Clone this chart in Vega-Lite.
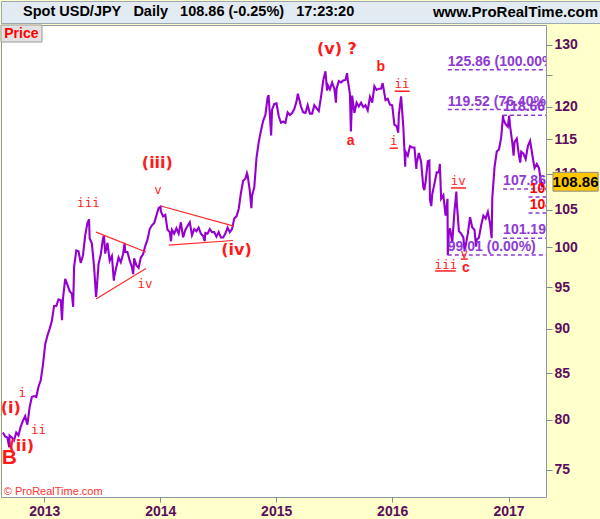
{
  "$schema": "https://vega.github.io/schema/vega-lite/v6.json",
  "padding": 0,
  "spacing": 0,
  "background": "#FFFFCC",
  "config": {"font": "Liberation Sans", "view": {"stroke": "#8c9aa5"}},
  "datasets": {
    "px": [
      {"d":"2012-08-24","p":78.7},{"d":"2012-08-31","p":78.3},{"d":"2012-09-07","p":78.2},{"d":"2012-09-13","p":77.2},{"d":"2012-09-14","p":78.4},{"d":"2012-09-21","p":78.2},{"d":"2012-09-28","p":77.9},{"d":"2012-10-05","p":78.7},{"d":"2012-10-12","p":78.4},{"d":"2012-10-19","p":79.3},{"d":"2012-10-26","p":79.9},{"d":"2012-11-02","p":80.4},{"d":"2012-11-09","p":79.5},{"d":"2012-11-16","p":81.3},{"d":"2012-11-23","p":82.4},{"d":"2012-11-30","p":82.5},{"d":"2012-12-07","p":82.4},{"d":"2012-12-14","p":83.5},{"d":"2012-12-21","p":84.2},{"d":"2012-12-28","p":85.9},
      {"d":"2013-01-04","p":88.2},{"d":"2013-01-11","p":89.2},{"d":"2013-01-18","p":90.0},{"d":"2013-01-25","p":90.9},{"d":"2013-02-01","p":92.7},{"d":"2013-02-08","p":92.7},{"d":"2013-02-15","p":93.5},{"d":"2013-02-22","p":93.4},{"d":"2013-02-26","p":91.0},{"d":"2013-03-01","p":93.6},{"d":"2013-03-08","p":96.0},{"d":"2013-03-15","p":95.3},{"d":"2013-03-22","p":94.5},{"d":"2013-03-29","p":94.2},{"d":"2013-04-02","p":92.6},{"d":"2013-04-05","p":97.5},{"d":"2013-04-12","p":99.6},{"d":"2013-04-19","p":99.5},{"d":"2013-04-26","p":98.0},{"d":"2013-05-03","p":99.0},{"d":"2013-05-10","p":101.6},{"d":"2013-05-17","p":103.2},{"d":"2013-05-22","p":103.7},{"d":"2013-05-24","p":101.2},{"d":"2013-05-31","p":100.5},{"d":"2013-06-07","p":97.5},{"d":"2013-06-13","p":93.8},{"d":"2013-06-14","p":94.1},{"d":"2013-06-21","p":97.9},{"d":"2013-06-28","p":99.1},{"d":"2013-07-05","p":101.2},{"d":"2013-07-08","p":101.5},{"d":"2013-07-12","p":99.2},{"d":"2013-07-19","p":100.6},{"d":"2013-07-26","p":98.3},{"d":"2013-08-02","p":98.9},{"d":"2013-08-08","p":95.8},{"d":"2013-08-09","p":96.2},{"d":"2013-08-16","p":97.5},{"d":"2013-08-23","p":98.7},{"d":"2013-08-30","p":98.1},{"d":"2013-09-06","p":99.1},{"d":"2013-09-11","p":100.6},{"d":"2013-09-13","p":99.4},{"d":"2013-09-20","p":99.4},{"d":"2013-09-27","p":98.3},{"d":"2013-10-04","p":97.5},{"d":"2013-10-08","p":96.6},{"d":"2013-10-11","p":98.6},{"d":"2013-10-18","p":97.7},{"d":"2013-10-25","p":97.4},{"d":"2013-11-01","p":98.7},{"d":"2013-11-08","p":99.1},{"d":"2013-11-15","p":100.2},{"d":"2013-11-22","p":101.0},{"d":"2013-11-29","p":102.4},{"d":"2013-12-06","p":102.9},{"d":"2013-12-13","p":103.2},{"d":"2013-12-20","p":104.2},{"d":"2013-12-27","p":105.2},
      {"d":"2014-01-02","p":105.4},{"d":"2014-01-03","p":104.8},{"d":"2014-01-10","p":104.1},{"d":"2014-01-17","p":104.3},{"d":"2014-01-24","p":102.3},{"d":"2014-01-31","p":102.0},{"d":"2014-02-04","p":100.8},{"d":"2014-02-07","p":102.3},{"d":"2014-02-14","p":101.8},{"d":"2014-02-21","p":102.5},{"d":"2014-02-28","p":101.8},{"d":"2014-03-07","p":103.3},{"d":"2014-03-14","p":101.3},{"d":"2014-03-21","p":102.3},{"d":"2014-03-28","p":102.8},{"d":"2014-04-04","p":103.3},{"d":"2014-04-11","p":101.6},{"d":"2014-04-18","p":102.4},{"d":"2014-04-25","p":102.1},{"d":"2014-05-02","p":102.6},{"d":"2014-05-09","p":101.8},{"d":"2014-05-16","p":101.5},{"d":"2014-05-21","p":100.8},{"d":"2014-05-23","p":101.9},{"d":"2014-05-30","p":101.8},{"d":"2014-06-06","p":102.4},{"d":"2014-06-13","p":102.0},{"d":"2014-06-20","p":102.0},{"d":"2014-06-27","p":101.4},{"d":"2014-07-04","p":102.0},{"d":"2014-07-11","p":101.3},{"d":"2014-07-18","p":101.3},{"d":"2014-07-25","p":101.8},{"d":"2014-08-01","p":102.6},{"d":"2014-08-08","p":102.0},{"d":"2014-08-15","p":102.4},{"d":"2014-08-22","p":103.8},{"d":"2014-08-29","p":104.1},{"d":"2014-09-05","p":105.1},{"d":"2014-09-12","p":107.3},{"d":"2014-09-19","p":109.0},{"d":"2014-09-26","p":109.3},{"d":"2014-10-01","p":110.1},{"d":"2014-10-03","p":109.8},{"d":"2014-10-10","p":107.6},{"d":"2014-10-15","p":105.2},{"d":"2014-10-17","p":106.9},{"d":"2014-10-24","p":108.1},{"d":"2014-10-31","p":112.3},{"d":"2014-11-07","p":114.6},{"d":"2014-11-14","p":116.3},{"d":"2014-11-21","p":117.8},{"d":"2014-11-28","p":118.7},{"d":"2014-12-05","p":121.4},{"d":"2014-12-08","p":121.8},{"d":"2014-12-12","p":118.8},{"d":"2014-12-16","p":115.6},{"d":"2014-12-19","p":119.5},{"d":"2014-12-26","p":120.4},
      {"d":"2015-01-02","p":120.5},{"d":"2015-01-09","p":118.5},{"d":"2015-01-16","p":117.5},{"d":"2015-01-23","p":117.7},{"d":"2015-01-30","p":117.5},{"d":"2015-02-06","p":119.1},{"d":"2015-02-13","p":118.7},{"d":"2015-02-20","p":119.0},{"d":"2015-02-27","p":119.6},{"d":"2015-03-06","p":120.8},{"d":"2015-03-10","p":122.0},{"d":"2015-03-13","p":121.4},{"d":"2015-03-20","p":120.0},{"d":"2015-03-27","p":119.1},{"d":"2015-04-03","p":119.0},{"d":"2015-04-10","p":120.2},{"d":"2015-04-17","p":118.9},{"d":"2015-04-24","p":118.9},{"d":"2015-05-01","p":120.2},{"d":"2015-05-08","p":119.7},{"d":"2015-05-15","p":119.3},{"d":"2015-05-22","p":121.5},{"d":"2015-05-29","p":124.1},{"d":"2015-06-05","p":125.6},{"d":"2015-06-10","p":122.5},{"d":"2015-06-12","p":123.4},{"d":"2015-06-19","p":122.7},{"d":"2015-06-26","p":123.8},{"d":"2015-07-03","p":122.8},{"d":"2015-07-08","p":120.6},{"d":"2015-07-10","p":122.8},{"d":"2015-07-17","p":124.0},{"d":"2015-07-24","p":123.8},{"d":"2015-07-31","p":124.1},{"d":"2015-08-07","p":124.2},{"d":"2015-08-12","p":125.3},{"d":"2015-08-14","p":124.3},{"d":"2015-08-21","p":122.0},{"d":"2015-08-24","p":116.2},{"d":"2015-08-28","p":121.7},{"d":"2015-09-04","p":119.0},{"d":"2015-09-11","p":120.6},{"d":"2015-09-18","p":120.0},{"d":"2015-09-25","p":120.6},{"d":"2015-10-02","p":119.9},{"d":"2015-10-09","p":120.2},{"d":"2015-10-16","p":119.4},{"d":"2015-10-23","p":121.5},{"d":"2015-10-30","p":120.6},{"d":"2015-11-06","p":123.2},{"d":"2015-11-13","p":122.6},{"d":"2015-11-20","p":122.8},{"d":"2015-11-27","p":122.8},{"d":"2015-12-02","p":123.7},{"d":"2015-12-04","p":123.1},{"d":"2015-12-11","p":121.0},{"d":"2015-12-18","p":121.2},{"d":"2015-12-25","p":120.3},
      {"d":"2016-01-01","p":120.2},{"d":"2016-01-08","p":117.2},{"d":"2016-01-15","p":117.0},{"d":"2016-01-20","p":116.0},{"d":"2016-01-22","p":118.8},{"d":"2016-01-29","p":121.6},{"d":"2016-02-05","p":116.9},{"d":"2016-02-11","p":111.0},{"d":"2016-02-12","p":113.2},{"d":"2016-02-19","p":112.6},{"d":"2016-02-26","p":114.0},{"d":"2016-03-04","p":113.8},{"d":"2016-03-11","p":113.8},{"d":"2016-03-17","p":110.7},{"d":"2016-03-18","p":111.5},{"d":"2016-03-25","p":113.0},{"d":"2016-04-01","p":111.7},{"d":"2016-04-08","p":108.1},{"d":"2016-04-11","p":107.7},{"d":"2016-04-15","p":108.8},{"d":"2016-04-22","p":111.8},{"d":"2016-04-27","p":111.9},{"d":"2016-04-29","p":106.3},{"d":"2016-05-03","p":105.5},{"d":"2016-05-06","p":107.1},{"d":"2016-05-13","p":108.6},{"d":"2016-05-20","p":110.2},{"d":"2016-05-27","p":110.2},{"d":"2016-05-30","p":111.4},{"d":"2016-06-03","p":106.5},{"d":"2016-06-10","p":107.0},{"d":"2016-06-17","p":104.2},{"d":"2016-06-23","p":106.5},{"d":"2016-06-24","p":99.0},{"d":"2016-06-27","p":101.8},{"d":"2016-07-01","p":102.5},{"d":"2016-07-08","p":100.6},{"d":"2016-07-15","p":104.8},{"d":"2016-07-21","p":107.5},{"d":"2016-07-22","p":106.1},{"d":"2016-07-29","p":102.1},{"d":"2016-08-05","p":101.8},{"d":"2016-08-12","p":101.3},{"d":"2016-08-16","p":99.5},{"d":"2016-08-19","p":100.2},{"d":"2016-08-26","p":101.8},{"d":"2016-09-02","p":104.0},{"d":"2016-09-09","p":102.6},{"d":"2016-09-16","p":102.3},{"d":"2016-09-21","p":100.1},{"d":"2016-09-23","p":101.0},{"d":"2016-09-30","p":101.3},{"d":"2016-10-07","p":102.9},{"d":"2016-10-14","p":104.2},{"d":"2016-10-21","p":103.8},{"d":"2016-10-28","p":104.7},{"d":"2016-11-04","p":103.1},{"d":"2016-11-09","p":101.2},{"d":"2016-11-11","p":106.6},{"d":"2016-11-18","p":110.9},{"d":"2016-11-25","p":113.2},{"d":"2016-12-02","p":113.5},{"d":"2016-12-09","p":115.3},{"d":"2016-12-15","p":118.66},{"d":"2016-12-16","p":118.0},{"d":"2016-12-23","p":117.3},{"d":"2016-12-30","p":116.9},
      {"d":"2017-01-03","p":118.6},{"d":"2017-01-06","p":117.0},{"d":"2017-01-13","p":114.5},{"d":"2017-01-17","p":112.6},{"d":"2017-01-20","p":114.6},{"d":"2017-01-27","p":115.1},{"d":"2017-02-03","p":112.6},{"d":"2017-02-07","p":111.6},{"d":"2017-02-10","p":113.2},{"d":"2017-02-17","p":112.9},{"d":"2017-02-24","p":112.1},{"d":"2017-03-03","p":114.0},{"d":"2017-03-10","p":114.8},{"d":"2017-03-17","p":112.7},{"d":"2017-03-24","p":110.8},{"d":"2017-03-31","p":111.4},{"d":"2017-04-07","p":110.8},{"d":"2017-04-14","p":108.6},{"d":"2017-04-17","p":108.1},{"d":"2017-04-18","p":108.86}
    ]
  },
  "vconcat": [
    {
      "width": 600,
      "height": 22,
      "view": {"fill": "#e2ebf1", "stroke": "#9aa8b2"},
      "data": {"values": [
        {"side": "left", "text": "Spot USD/JPY\u00a0\u00a0\u00a0Daily\u00a0\u00a0\u00a0108.86 (-0.25%)\u00a0\u00a0\u00a017:23:20"},
        {"side": "right", "text": "www.ProRealTime.com"}
      ]},
      "encoding": {
        "x": {"field": "side", "type": "nominal", "scale": {"type": "point", "domain": ["left", "right"], "padding": 0}, "axis": null},
        "text": {"field": "text"}
      },
      "layer": [
        {"transform": [{"filter": "datum.side == 'left'"}], "mark": {"type": "text", "align": "left", "dx": 22, "font": "Liberation Sans", "fontWeight": "bold", "fontSize": 14.5, "color": "#000000"}},
        {"transform": [{"filter": "datum.side == 'right'"}], "mark": {"type": "text", "align": "right", "dx": -3, "font": "Liberation Sans", "fontWeight": "bold", "fontSize": 15, "color": "#000000"}}
      ]
    },
    {
      "width": 545,
      "height": 472,
      "view": {"fill": "#ffffff", "stroke": "#8c9aa5"},
      "encoding": {
        "x": {"field": "d", "type": "temporal", "scale": {"domain": ["2012-08-18", "2017-04-29"]},
          "axis": {"orient": "bottom", "title": null, "format": "%Y", "tickCount": {"interval": "year", "step": 1}, "labelFont": "Liberation Sans", "labelFontWeight": "bold", "labelFontSize": 14, "labelColor": "#5c0c5c", "tickColor": "#7d8d98", "tickSize": 5, "labelPadding": 2, "domain": false, "grid": false, "minExtent": 25, "maxExtent": 25, "labelFlush": false, "labelOverlap": false, "zindex": 0}},
        "y": {"field": "p", "type": "quantitative", "scale": {"type": "log", "domain": [72.4, 133.35], "nice": false, "zero": false},
          "axis": {"orient": "right", "title": null, "values": [75, 80, 85, 90, 95, 100, 105, 110, 115, 120, 125, 130], "labelExpr": "datum.value == 125 ? '' : datum.label", "format": "d", "labelFont": "Liberation Sans", "labelFontWeight": "bold", "labelFontSize": 14, "labelColor": "#5c0c5c", "tickColor": "#7d8d98", "tickSize": 6, "labelPadding": 2, "domain": false, "grid": false, "minExtent": 55, "maxExtent": 55, "labelOverlap": false, "zindex": 0}}
      },
      "layer": [
        {"data": {"name": "px"}, "mark": {"type": "line", "color": "#9500d0", "strokeWidth": 2.1, "clip": true}},
        {"data": {"values": [
          {"d": "2013-06-13", "d2": "2013-11-17", "p": 102.0, "p2": 99.4},
          {"d": "2013-06-13", "d2": "2013-11-17", "p": 93.55, "p2": 97.3},
          {"d": "2014-01-03", "d2": "2014-08-21", "p": 105.5, "p2": 102.8},
          {"d": "2014-01-28", "d2": "2014-08-18", "p": 100.3, "p2": 100.9}
        ]}, "mark": {"type": "rule", "color": "#ff2a2a", "strokeWidth": 1.2},
          "encoding": {"x2": {"field": "d2"}, "y2": {"field": "p2"}}},
        {"data": {"values": [
          {"d": "2016-06-24", "d2": "2017-04-29", "p": 125.86},
          {"d": "2016-06-24", "d2": "2017-04-29", "p": 119.52},
          {"d": "2016-12-15", "d2": "2017-04-29", "p": 118.66},
          {"d": "2016-12-15", "d2": "2017-04-29", "p": 107.86},
          {"d": "2017-03-05", "d2": "2017-04-29", "p": 106.75},
          {"d": "2017-03-05", "d2": "2017-04-29", "p": 104.55},
          {"d": "2016-12-15", "d2": "2017-04-29", "p": 101.19},
          {"d": "2016-06-24", "d2": "2017-04-29", "p": 99.01}
        ]}, "mark": {"type": "rule", "color": "#8e3ad4", "strokeWidth": 1.5, "strokeDash": [4, 3], "clip": true},
          "encoding": {"x2": {"field": "d2"}}},
        {"data": {"values": [
          {"d": "2016-06-24", "p": 125.86, "t": "125.86 (100.00%)"},
          {"d": "2016-06-24", "p": 119.52, "t": "119.52 (76.40%)"},
          {"d": "2016-12-15", "p": 118.66, "t": "118.66"},
          {"d": "2016-12-15", "p": 107.86, "t": "107.86"},
          {"d": "2016-12-15", "p": 101.19, "t": "101.19"},
          {"d": "2016-06-24", "p": 99.01, "t": "99.01 (0.00%)"}
        ]}, "mark": {"type": "text", "align": "left", "baseline": "bottom", "dy": -1, "font": "Liberation Sans", "fontWeight": "bold", "fontSize": 14, "color": "#8e3ad4", "clip": true},
          "encoding": {"text": {"field": "t"}}},
        {"data": {"values": [
          {"d": "2017-03-09", "p": 106.75, "t": "106.75"},
          {"d": "2017-03-09", "p": 104.55, "t": "104.55"}
        ]}, "mark": {"type": "text", "align": "left", "baseline": "bottom", "dy": -1, "font": "Liberation Sans", "fontWeight": "bold", "fontSize": 14, "color": "#ff0000", "clip": true},
          "encoding": {"text": {"field": "t"}}},
        {"data": {"values": [
          {"d": "2015-07-11", "p": 129.3, "t": "(v) ?"},
          {"d": "2013-12-23", "p": 111.5, "t": "(iii)"},
          {"d": "2014-08-29", "p": 99.65, "t": "(iv)"},
          {"d": "2012-09-18", "p": 81.25, "t": "(i)"},
          {"d": "2012-10-21", "p": 77.3, "t": "(ii)"}
        ]}, "mark": {"type": "text", "align": "center", "baseline": "middle", "font": "DejaVu Sans", "fontWeight": "bold", "fontSize": 16, "color": "#ff1a1a"},
          "encoding": {"text": {"field": "t"}}},
        {"data": {"values": [
          {"d": "2013-05-20", "p": 105.96, "t": "iii"},
          {"d": "2013-12-25", "p": 107.65, "t": "v"},
          {"d": "2013-11-14", "p": 95.4, "t": "iv"},
          {"d": "2012-10-24", "p": 82.8, "t": "i"},
          {"d": "2012-12-14", "p": 79.0, "t": "ii"},
          {"d": "2016-02-01", "p": 123.6, "t": "ii"},
          {"d": "2016-01-06", "p": 114.7, "t": "i"},
          {"d": "2016-07-27", "p": 109.0, "t": "iv"},
          {"d": "2016-06-18", "p": 97.8, "t": "iii"},
          {"d": "2016-08-15", "p": 99.2, "t": "v"}
        ]}, "mark": {"type": "text", "align": "center", "baseline": "middle", "font": "DejaVu Sans Mono", "fontSize": 12.5, "color": "#ff1f1f"},
          "encoding": {"text": {"field": "t"}}},
        {"data": {"values": [
          {"d": "2016-01-09", "d2": "2016-02-25", "p": 122.4},
          {"d": "2015-12-24", "d2": "2016-01-19", "p": 113.7},
          {"d": "2016-07-04", "d2": "2016-08-20", "p": 108.0},
          {"d": "2016-05-15", "d2": "2016-07-19", "p": 97.0},
          {"d": "2016-08-04", "d2": "2016-08-26", "p": 98.5}
        ]}, "mark": {"type": "rule", "color": "#ff1f1f", "strokeWidth": 1.5},
          "encoding": {"x2": {"field": "d2"}}},
        {"data": {"values": [
          {"d": "2015-08-23", "p": 114.7, "t": "a"},
          {"d": "2015-11-26", "p": 126.3, "t": "b"},
          {"d": "2016-08-20", "p": 97.4, "t": "c"}
        ]}, "mark": {"type": "text", "align": "center", "baseline": "middle", "font": "Liberation Sans", "fontWeight": "bold", "fontSize": 14, "color": "#ff1a1a"},
          "encoding": {"text": {"field": "t"}}},
        {"data": {"values": [{"d": "2012-09-13", "p": 76.1, "t": "B"}]},
          "mark": {"type": "text", "align": "center", "baseline": "middle", "font": "Liberation Sans", "fontWeight": "bold", "fontSize": 21, "color": "#ff1a1a"},
          "encoding": {"text": {"field": "t"}}},
        {"data": {"values": [{"d": "2012-08-27", "p": 72.9, "t": "© ProRealTime.com"}]},
          "mark": {"type": "text", "align": "left", "baseline": "middle", "font": "Liberation Sans", "fontSize": 11, "color": "#ff3333"},
          "encoding": {"text": {"field": "t"}}},
        {"data": {"values": [{"d": "2012-08-18", "d2": "2012-12-25", "p": 133.35, "p2": 130.45}]},
          "mark": {"type": "rect", "fill": "#e2e2e2", "stroke": "#9a9a9a", "strokeWidth": 1, "clip": false},
          "encoding": {"x2": {"field": "d2"}, "y2": {"field": "p2"}}},
        {"data": {"values": [{"d": "2012-10-21", "p": 131.8, "t": "Price"}]},
          "mark": {"type": "text", "align": "center", "baseline": "middle", "font": "Liberation Sans", "fontWeight": "bold", "fontSize": 14, "color": "#ff0000"},
          "encoding": {"text": {"field": "t"}}},
        {"data": {"values": [{"d": "2017-05-21", "d2": "2017-10-10", "p": 110.2, "p2": 107.55}]},
          "mark": {"type": "rect", "fill": "#ffc800", "stroke": "#8a8a8a", "strokeWidth": 1, "clip": false},
          "encoding": {"x2": {"field": "d2"}, "y2": {"field": "p2"}}},
        {"data": {"values": [{"d": "2017-07-31", "p": 108.86, "t": "108.86"}]},
          "mark": {"type": "text", "align": "center", "baseline": "middle", "font": "Liberation Sans", "fontWeight": "bold", "fontSize": 15, "color": "#000000", "clip": false},
          "encoding": {"text": {"field": "t"}}}
      ]
    }
  ]
}
